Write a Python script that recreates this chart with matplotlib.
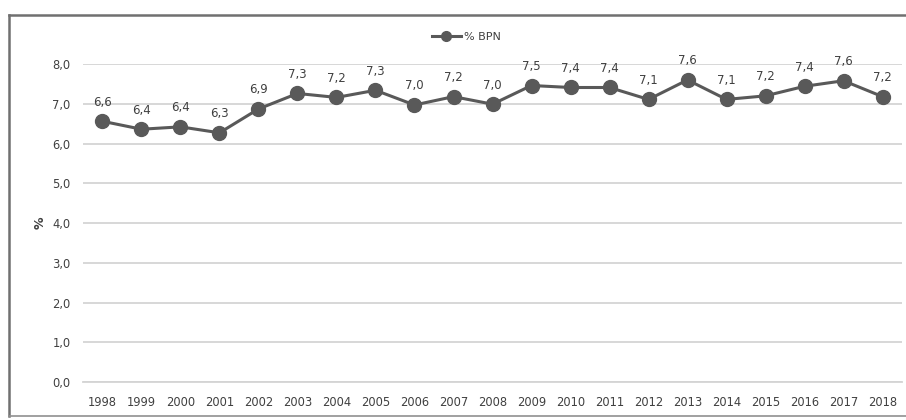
import matplotlib
matplotlib.use("Agg")
import matplotlib.pyplot as plt
from matplotlib.lines import Line2D

YEARS = [str(y) for y in range(1998, 2019)]
BPN = [6.56, 6.36, 6.42, 6.27, 6.87, 7.26, 7.16, 7.34, 6.97, 7.18, 6.99,
       7.46, 7.41, 7.41, 7.11, 7.60, 7.11, 7.20, 7.44, 7.58, 7.18]
Y_TICKS = [0, 1, 2, 3, 4, 5, 6, 7, 8]

LINE_COLOR = "#595959"
GRID_COLOR = "#d4d4d4"
TEXT_COLOR = "#404040"


def comma(v):
    return f"{v:.1f}".replace(".", ",")


fig = plt.figure(figsize=(9.06, 4.2), dpi=100)
ax = fig.add_axes([0.0916, 0.0905, 0.904, 0.757])

x = list(range(len(YEARS)))
ax.plot(x, BPN, color=LINE_COLOR, lw=2.2, marker="o", ms=10,
        markerfacecolor=LINE_COLOR, markeredgecolor=LINE_COLOR, zorder=3)
for xi, v in zip(x, BPN):
    ax.annotate(comma(v), (xi, v), xytext=(0, 9), textcoords="offset points",
                ha="center", va="bottom", fontsize=8.5, color=TEXT_COLOR)

ax.set_xlim(-0.5, len(YEARS) - 0.5)
ax.set_ylim(0, 8)
ax.set_xticks(x)
ax.set_xticklabels(YEARS)
ax.set_yticks(Y_TICKS)
ax.set_yticklabels([comma(t) for t in Y_TICKS])
ax.tick_params(length=0, labelsize=8.3, colors=TEXT_COLOR)
ax.tick_params(axis="x", pad=10)
ax.tick_params(axis="y", pad=9)
ax.grid(axis="y", color=GRID_COLOR, lw=1.3)
ax.set_axisbelow(True)
for s in ["top", "right", "left"]:
    ax.spines[s].set_visible(False)
ax.spines["bottom"].set_color(GRID_COLOR)
ax.spines["bottom"].set_linewidth(1.3)
ax.set_ylabel("%", fontsize=9, color=TEXT_COLOR, labelpad=4, fontweight="bold")

handle = Line2D([], [], color=LINE_COLOR, lw=2.2, marker="o", ms=7)
fig.legend([handle], ["% BPN"], loc="center", bbox_to_anchor=(0.515, 0.912),
           frameon=False, fontsize=8, handlelength=2.6, handletextpad=0.3,
           labelcolor=TEXT_COLOR)

# outer chart frame (left, top, bottom)
fig.add_artist(Line2D([0.0099, 0.0099], [0.0095, 0.964], color="#707070", lw=1.8))
fig.add_artist(Line2D([0.0099, 1.0], [0.964, 0.964], color="#707070", lw=1.8))
fig.add_artist(Line2D([0.0099, 1.0], [0.0095, 0.0095], color="#909090", lw=1.2))

fig.savefig("out.png", dpi=100)
